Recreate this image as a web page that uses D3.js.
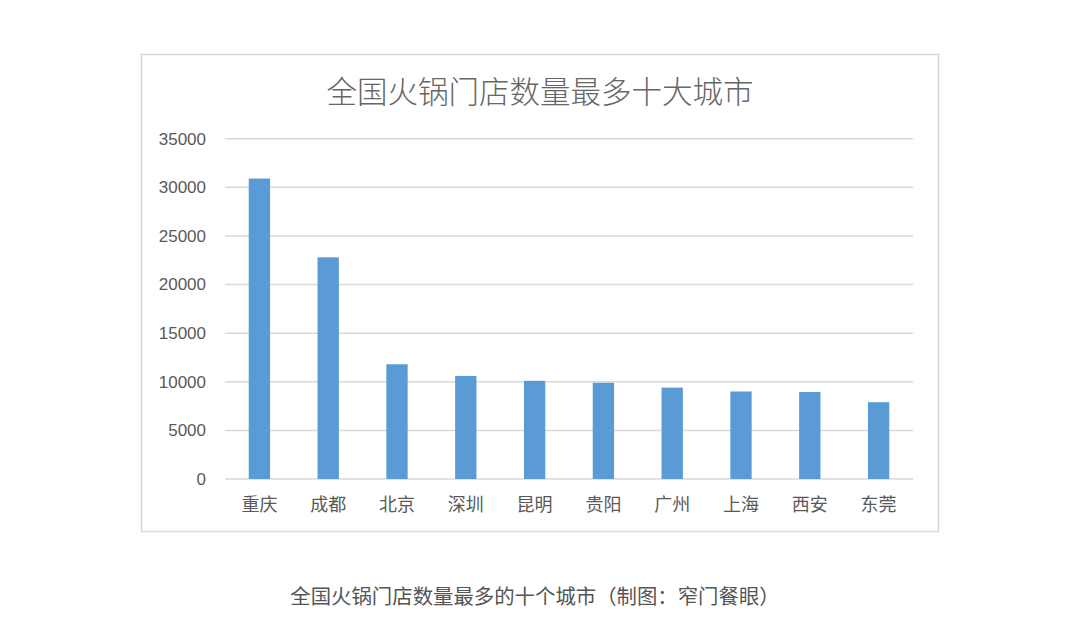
<!DOCTYPE html>
<html>
<head>
<meta charset="utf-8">
<script src="https://cdn.jsdelivr.net/npm/d3@7"></script>
<style>
  html, body { margin: 0; padding: 0; background: #fff; }
  svg { display: block; }
</style>
</head>
<body>
<div id="chart"></div>
<script>
const cities = ['重庆', '成都', '北京', '深圳', '昆明', '贵阳', '广州', '上海', '西安', '东莞'];
const storeCounts = [30900, 22800, 11800, 10600, 10100, 9900, 9400, 9000, 8950, 7900];
const yTicks = [0, 5000, 10000, 15000, 20000, 25000, 30000, 35000];
const chartTitle = '全国火锅门店数量最多十大城市';
const caption = '全国火锅门店数量最多的十个城市（制图：窄门餐眼）';

const width = 1080;
const height = 644;
const frame = { left: 141.5, top: 54.5, right: 938.5, bottom: 531.5 };
const plot = { left: 225, right: 913, top: 138.7, bottom: 479 };
const cjk = '"Noto Sans CJK SC", "Noto Sans", sans-serif';

const svg = d3.select('#chart')
    .append('svg')
    .attr('width', width)
    .attr('height', height);

// chart frame
svg.append('rect')
    .attr('x', frame.left)
    .attr('y', frame.top)
    .attr('width', frame.right - frame.left)
    .attr('height', frame.bottom - frame.top)
    .attr('fill', '#fff')
    .attr('stroke', '#d9d9d9')
    .attr('stroke-width', 1.5);

const x = d3.scaleBand()
    .domain(cities)
    .range([plot.left, plot.right])
    .paddingInner(0.69)
    .paddingOuter(0.345);

const y = d3.scaleLinear()
    .domain([0, 35000])
    .range([plot.bottom, plot.top]);

// gridlines
svg.append('g')
    .selectAll('line')
    .data(yTicks)
    .join('line')
    .attr('x1', plot.left)
    .attr('x2', plot.right)
    .attr('y1', d => y(d))
    .attr('y2', d => y(d))
    .attr('stroke', '#d9d9d9')
    .attr('stroke-width', 1.5);

// y axis labels
const yAxis = svg.append('g')
    .attr('transform', `translate(${plot.left - 19},0)`)
    .call(d3.axisLeft(y).tickValues(yTicks).tickSize(0).tickPadding(0).tickFormat(d3.format('d')));
yAxis.select('.domain').remove();
yAxis.selectAll('text')
    .attr('fill', '#595959')
    .style('font-family', '"Liberation Sans", Arial, sans-serif')
    .style('font-size', '17px');

// bars
svg.append('g')
    .selectAll('rect')
    .data(storeCounts)
    .join('rect')
    .attr('x', (d, i) => x(cities[i]))
    .attr('y', d => y(d))
    .attr('width', x.bandwidth())
    .attr('height', d => y(0) - y(d))
    .attr('fill', '#5b9bd5');

// x axis labels
const xAxis = svg.append('g')
    .attr('transform', `translate(0,${plot.bottom})`)
    .call(d3.axisBottom(x).tickSize(0).tickPadding(19));
xAxis.select('.domain').remove();
xAxis.selectAll('text')
    .attr('fill', '#595959')
    .style('font-family', cjk)
    .style('font-size', '18px');

// title
svg.append('text')
    .attr('x', (frame.left + frame.right) / 2)
    .attr('y', 92)
    .attr('dy', '0.35em')
    .attr('text-anchor', 'middle')
    .attr('fill', '#666')
    .style('font-family', cjk)
    .style('font-weight', 300)
    .style('font-size', '30.5px')
    .text(chartTitle);

// caption under the chart
svg.append('text')
    .attr('x', 535)
    .attr('y', 597)
    .attr('dy', '0.35em')
    .attr('text-anchor', 'middle')
    .attr('fill', '#555')
    .style('font-family', cjk)
    .style('font-size', '20.4px')
    .text(caption);
</script>
</body>
</html>
